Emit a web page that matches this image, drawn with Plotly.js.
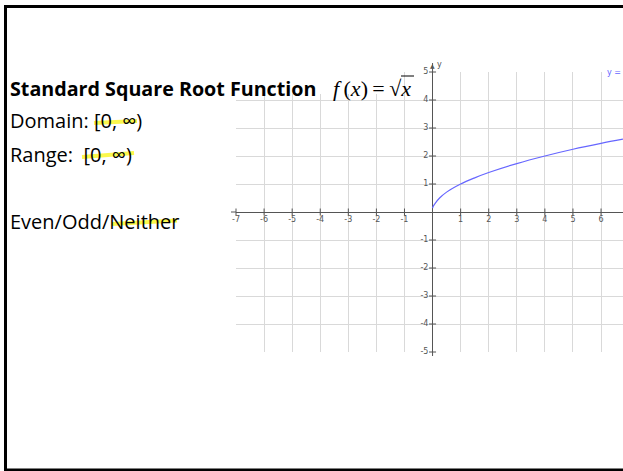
<!DOCTYPE html>
<html>
<head>
<meta charset="utf-8">
<script src="https://cdn.plot.ly/plotly-3.0.1.min.js"></script>
<style>
  html, body { margin: 0; padding: 0; background: #fff; }
  #chart { width: 623px; height: 471px; }
</style>
</head>
<body>
<div id="chart"></div>
<script>
// ---- data ----
const curveX = [0, 0.02, 0.1, 0.25, 0.5, 1, 1.5, 2, 3, 4, 5, 6, 6.78];
const curveY = [0.14, 0.2, 0.32, 0.5, 0.71, 1, 1.22, 1.41, 1.73, 2, 2.24, 2.45, 2.6];
const xTickVals = [-7, -6, -5, -4, -3, -2, -1, 1, 2, 3, 4, 5, 6];
const yTickVals = [-5, -4, -3, -2, -1, 1, 2, 3, 4, 5];
const xTickText = xTickVals.map(String);
const yTickText = yTickVals.map(String);
const titleText = "Standard Square Root Function";
const domainText = "Domain: [0, ∞)";
const rangeText = "Range:\u00A0\u00A0[0, ∞)";
const parityText = "Even/Odd/Neither";
const curveLabel = "y = sqrt(x)";

// ---- layout geometry (pixels) ----
const W = 623, H = 471;
const L = 236, R = 0, T = 72, B = 119;
const PW = W - L - R, PH = H - T - B;
const unitX = 28.08;
const xRange = [-7, -7 + PW / unitX];
const yRange = [-5, 5];
const px = v => (v - L) / PW;          // pixel x -> paper
const py = v => (T + PH - v) / PH;     // pixel y -> paper

const axisCol = '#555555';
const gridCol = '#d9d9d9';
const blue = '#6666ff';
const hl = 'rgba(250,245,0,0.7)';

const traces = [
  {
    x: curveX, y: curveY, type: 'scatter', mode: 'lines',
    line: { color: blue, width: 1.2, shape: 'spline' }, hoverinfo: 'skip', cliponaxis: false
  },
  // x tick marks and labels
  {
    x: xTickVals, y: xTickVals.map(() => 0), type: 'scatter', mode: 'markers+text',
    marker: { symbol: 'line-ns-open', size: 5, color: axisCol, line: { color: axisCol, width: 1 } },
    text: xTickText, textposition: 'bottom center',
    textfont: { family: 'DejaVu Sans, Arial', size: 8, color: '#555' },
    hoverinfo: 'skip', cliponaxis: false
  },
  // y tick marks and labels
  {
    x: yTickVals.map(() => 0), y: yTickVals, type: 'scatter', mode: 'markers+text',
    marker: { symbol: 'line-ew-open', size: 5, color: axisCol, line: { color: axisCol, width: 1 } },
    text: yTickText, textposition: 'middle left',
    textfont: { family: 'DejaVu Sans, Arial', size: 8, color: '#555' },
    hoverinfo: 'skip', cliponaxis: false
  }
];

const textFont = { family: 'Open Sans, Noto Sans, sans-serif', size: 20, color: '#000' };

const layout = {
  width: W, height: H,
  margin: { l: L, r: R, t: T, b: B, pad: 0 },
  paper_bgcolor: '#fff', plot_bgcolor: '#fff',
  showlegend: false,
  xaxis: {
    range: xRange, dtick: 1, tick0: 0, showgrid: true, gridcolor: gridCol, gridwidth: 1,
    zeroline: true, zerolinecolor: axisCol, zerolinewidth: 1,
    showticklabels: false, ticks: '', showline: false, fixedrange: true
  },
  yaxis: {
    range: yRange, dtick: 1, tick0: 0, showgrid: true, gridcolor: gridCol, gridwidth: 1,
    zeroline: true, zerolinecolor: axisCol, zerolinewidth: 1,
    showticklabels: false, ticks: '', showline: false, fixedrange: true
  },
  shapes: [
    // white box behind the title text over the grid
    { type: 'rect', xref: 'paper', yref: 'paper', x0: px(232), x1: px(402), y0: py(94), y1: py(60),
      fillcolor: '#fff', line: { width: 0 }, layer: 'above' },
    // axis extensions
    { type: 'line', xref: 'paper', yref: 'y', x0: px(231), x1: px(236), y0: 0, y1: 0,
      line: { color: axisCol, width: 1 } },
    { type: 'line', xref: 'x', yref: 'paper', x0: 0, x1: 0, y0: py(72), y1: py(63),
      line: { color: axisCol, width: 1 } },
    { type: 'line', xref: 'x', yref: 'paper', x0: 0, x1: 0, y0: py(356), y1: py(352),
      line: { color: axisCol, width: 1 } },
    // radical bar
    { type: 'line', xref: 'paper', yref: 'paper', x0: px(401), x1: px(414), y0: py(76), y1: py(76),
      line: { color: '#000', width: 1 }, layer: 'above' },
    // highlighter strokes
    { type: 'line', xref: 'paper', yref: 'paper', x0: px(94), y0: py(123), x1: px(137), y1: py(121),
      line: { color: hl, width: 4 }, layer: 'above' },
    { type: 'line', xref: 'paper', yref: 'paper', x0: px(82), y0: py(157), x1: px(134), y1: py(153),
      line: { color: hl, width: 4 }, layer: 'above' },
    { type: 'line', xref: 'paper', yref: 'paper', x0: px(112), y0: py(224), x1: px(177), y1: py(220.5),
      line: { color: hl, width: 4 }, layer: 'above' },
    // slide frame
    { type: 'rect', xref: 'paper', yref: 'paper', x0: px(5.5), x1: px(640), y0: py(470), y1: py(6.5),
      line: { color: '#000', width: 3 }, fillcolor: 'rgba(0,0,0,0)', layer: 'above' }
  ],
  annotations: [
    { text: '<b>' + titleText + '</b>', xref: 'paper', yref: 'paper', x: px(8), y: py(88),
      xanchor: 'left', yanchor: 'middle', showarrow: false,
      font: { family: textFont.family, size: 19.7, color: '#000' } },
    { text: domainText, xref: 'paper', yref: 'paper', x: px(8), y: py(120.5),
      xanchor: 'left', yanchor: 'middle', showarrow: false, font: textFont },
    { text: rangeText, xref: 'paper', yref: 'paper', x: px(8), y: py(154.5),
      xanchor: 'left', yanchor: 'middle', showarrow: false, font: textFont },
    { text: parityText, xref: 'paper', yref: 'paper', x: px(8), y: py(221),
      xanchor: 'left', yanchor: 'middle', showarrow: false, font: textFont },
    { text: '<i>f</i>\u2009(<i>x</i>)\u2009=\u2009√<i>x</i>', xref: 'paper', yref: 'paper', x: px(372), y: py(88),
      xanchor: 'center', yanchor: 'middle', showarrow: false,
      font: { family: 'Liberation Serif, Times New Roman, serif', size: 22, color: '#000' } },
    // y-axis arrow and label
    { text: '▲', xref: 'x', yref: 'paper', x: 0, y: py(65), xanchor: 'center', yanchor: 'middle',
      showarrow: false, font: { family: 'DejaVu Sans', size: 6, color: axisCol } },
    { text: 'y', xref: 'paper', yref: 'paper', x: px(435), y: py(64), xanchor: 'left', yanchor: 'middle',
      showarrow: false, font: { family: 'DejaVu Sans, Arial', size: 8, color: '#555' } },
    // curve label (cut by the edge, as in the reference)
    { text: curveLabel, xref: 'paper', yref: 'paper', x: px(605), y: py(72), xanchor: 'left', yanchor: 'middle',
      showarrow: false, font: { family: 'DejaVu Sans, Arial', size: 8, color: blue } }
  ]
};

Plotly.newPlot('chart', traces, layout, { staticPlot: true, displayModeBar: false });
</script>
</body>
</html>
